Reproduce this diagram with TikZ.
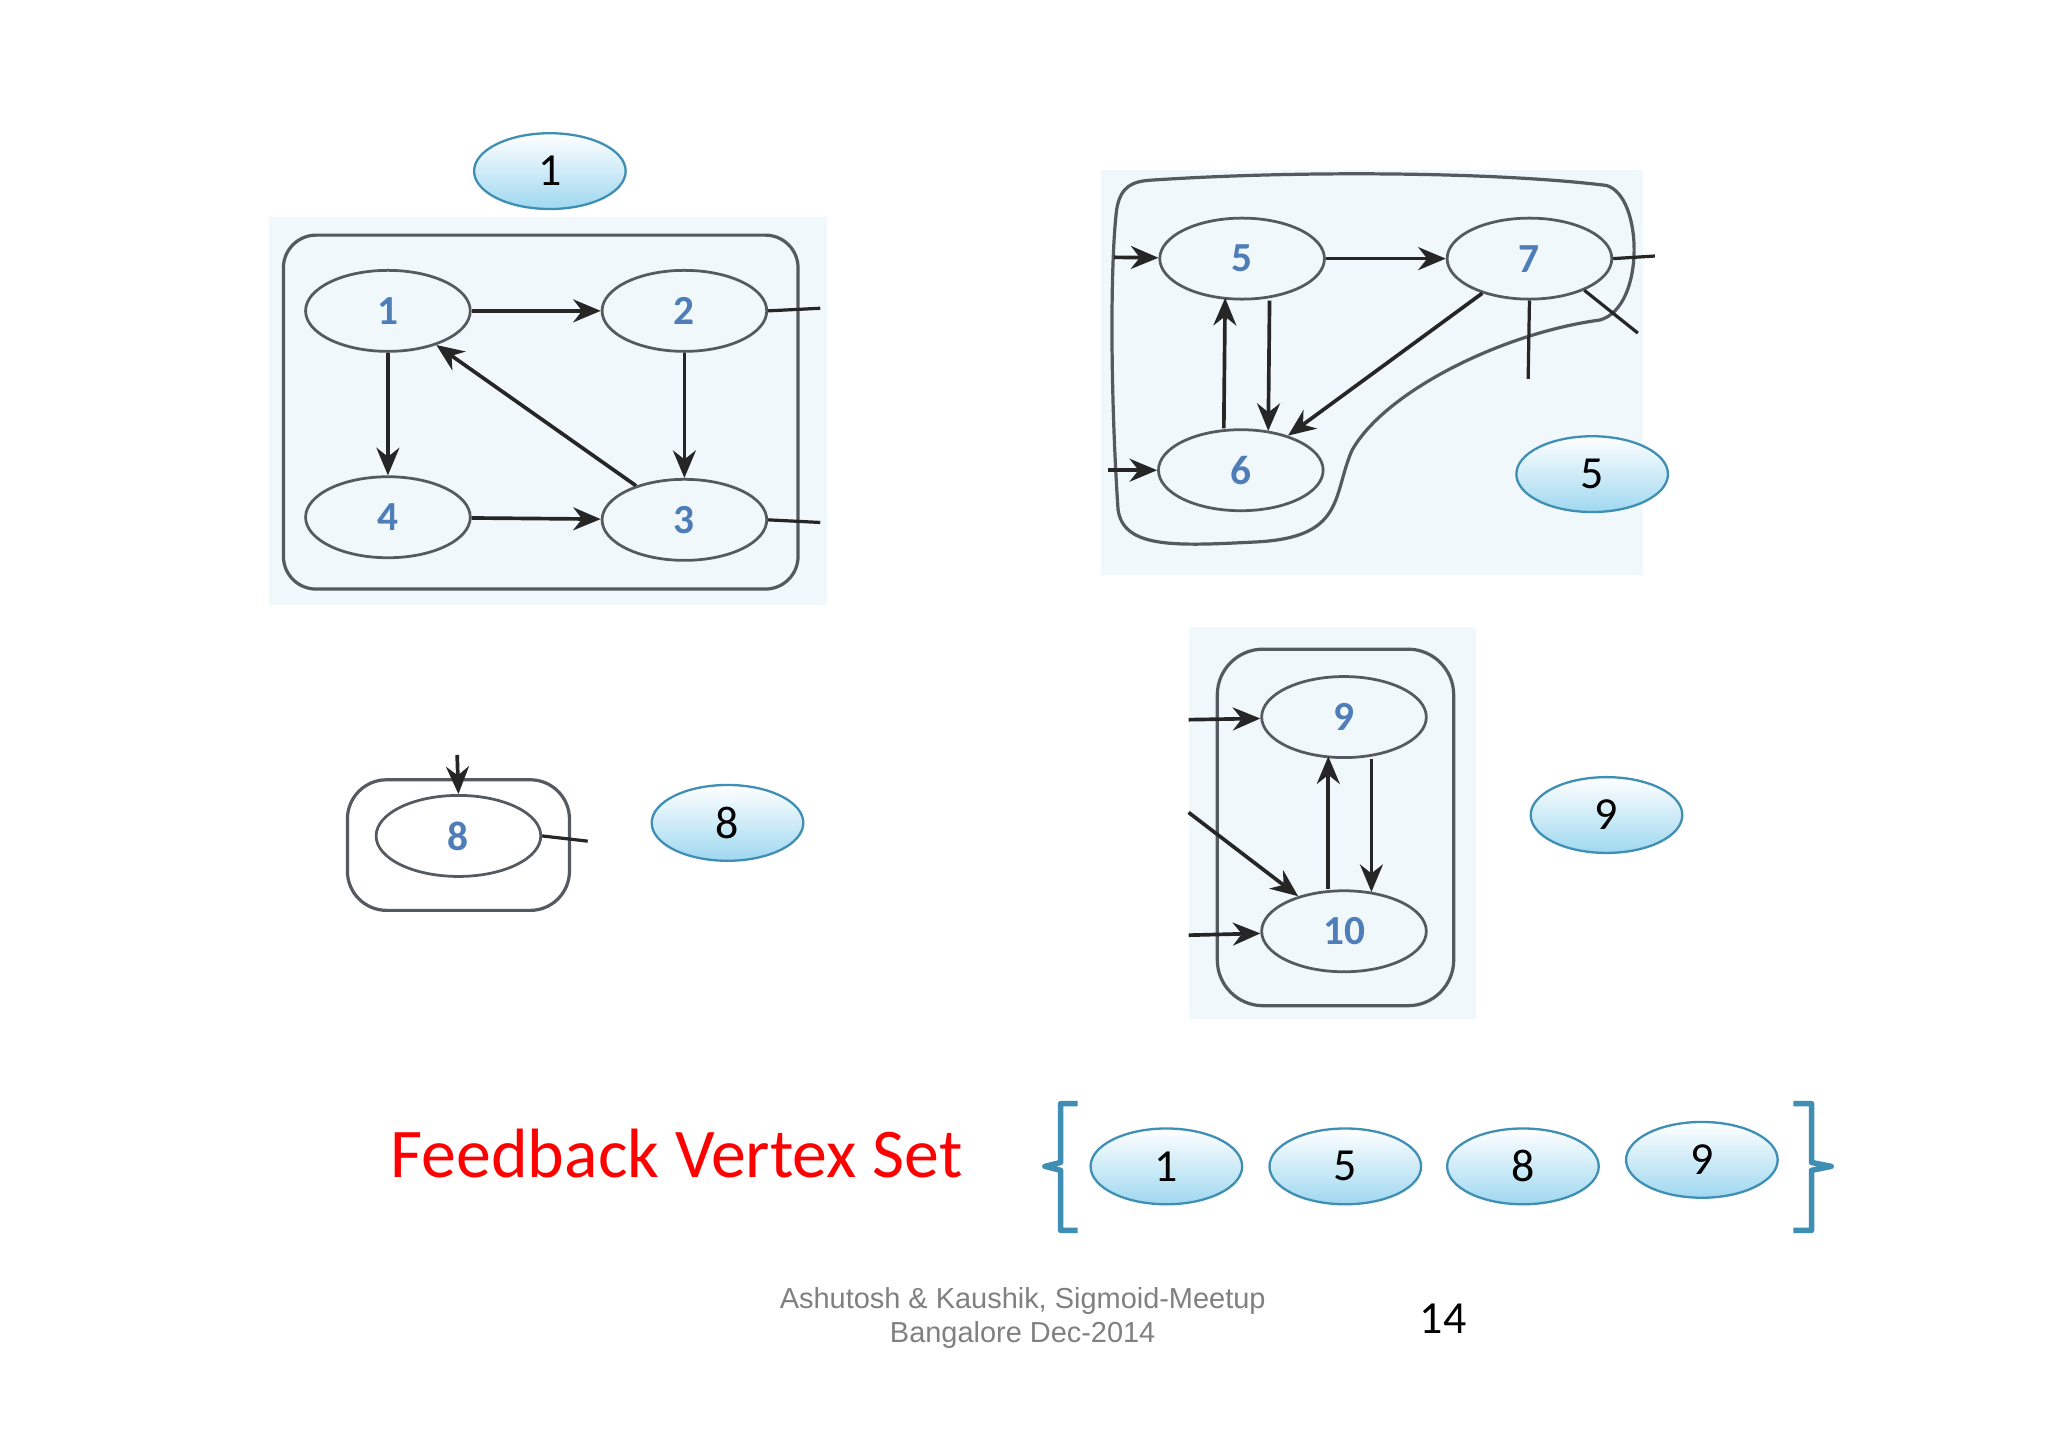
\documentclass[tikz,border=0pt]{standalone}
\usepackage{fontspec}
\setmainfont{Carlito}
\newfontfamily\arialf{Liberation Sans}
\usetikzlibrary{shapes.geometric,arrows.meta}
\definecolor{bgb}{HTML}{F0F8FC}
\definecolor{numb}{HTML}{4F7DB8}
\definecolor{lbord}{HTML}{3F8FB5}
\definecolor{lfill}{HTML}{9FD8F0}
\definecolor{gline}{HTML}{555A60}
\tikzset{
 gnode/.style={ellipse,draw=gline,line width=0.6pt,minimum width=1.26cm,minimum height=0.62cm,inner sep=0pt,font=\bfseries\fontsize{9}{10}\selectfont,text=numb},
 lbl/.style={ellipse,draw=lbord,line width=0.5pt,top color=white,bottom color=lfill,minimum width=1.16cm,minimum height=0.58cm,inner sep=0pt,font=\fontsize{10}{12}\selectfont},
 arr/.style={-{Stealth[length=6pt,width=5pt]},line width=0.8pt,black!85},
 pl/.style={line width=0.7pt,black!85},
 box/.style={draw=gline,line width=0.7pt,rounded corners=0.25cm},
 brk/.style={lbord,line width=1.2pt,line join=round},
}
\begin{document}
\begin{tikzpicture}[x=0.01cm,y=-0.01cm]
\fill[white] (0,0) rectangle (1568,1108);
\useasboundingbox (0,0) rectangle (1568,1108);
% cluster 1
\fill[bgb] (206,166) rectangle (633,463);
\draw[box] (217,180) rectangle (611,451);
\node[lbl] (L1) at (421,131) {1};
\node[gnode] (n1) at (297,238) {1};
\node[gnode] (n2) at (524,238) {2};
\node[gnode] (n4) at (297,396) {4};
\node[gnode] (n3) at (524,398) {3};
\draw[arr] (n1) -- (n2);
\draw[arr] (n2) -- (n3);
\draw[arr] (n1) -- (n4);
\draw[arr] (n4) -- (n3);
\draw[arr] (n3) -- (n1);
\coordinate (o2) at (628,236); \coordinate (o3) at (628,400);
\draw[pl] (n2.east) -- (o2);
\draw[pl] (n3.east) -- (o3);
% cluster 2
\fill[bgb] (843,130) rectangle (1258,440);
\draw[gline,line width=0.7pt] (880,138) .. controls (1000,130) and (1150,132) .. (1230,142)
 .. controls (1258,150) and (1260,235) .. (1225,245)
 .. controls (1150,255) and (1060,300) .. (1035,345)
 .. controls (1020,380) and (1030,412) .. (960,415)
 .. controls (900,418) and (860,420) .. (856,390)
 .. controls (850,300) and (850,200) .. (855,160)
 .. controls (858,142) and (868,139) .. (880,138) -- cycle;
\node[gnode] (n5) at (951,198) {5};
\node[gnode] (n7) at (1171,198) {7};
\node[gnode] (n6) at (950,360) {6};
\coordinate (i5) at (853,197); \coordinate (i6) at (848,360);
\draw[arr] (i5) -- (n5);
\draw[arr] (i6) -- (n6);
\draw[arr] (n5) -- (n7);
\draw[arr] ([xshift=0.21cm]n5.south) -- ([xshift=0.21cm,yshift=-0.02cm]n6.north);
\draw[arr] ([xshift=-0.13cm]n6.north) -- ([xshift=-0.13cm,yshift=0.02cm]n5.south);
\draw[arr] (n7) -- (n6);
\coordinate (o7a) at (1267,196); \coordinate (o7b) at (1254,255); \coordinate (o7c) at (1170,290);
\draw[pl] (n7.east) -- (o7a);
\draw[pl] (n7.-30) -- (o7b);
\draw[pl] (n7.south) -- (o7c);
\node[lbl] (L5) at (1219,363) {5};
% cluster 8
\draw[box,rounded corners=0.3cm] (266,597) rectangle (436,697);
\node[gnode] (n8) at (351,640) {8};
\coordinate (i8) at (350,578); \coordinate (o8) at (450,644);
\draw[arr] (i8) -- (n8.north);
\draw[pl] (n8.east) -- (o8);
\node[lbl] (L8) at (557,630) {8};
% cluster 9
\fill[bgb] (910,480) rectangle (1130,780);
\draw[box,rounded corners=0.35cm] (932,497) rectangle (1113,770);
\node[gnode] (n9) at (1029,549) {9};
\node[gnode] (n10) at (1029,713) {10};
\coordinate (i9) at (910,551); \coordinate (i10a) at (910,622); \coordinate (i10b) at (910,716);
\draw[arr] (i9) -- (n9);
\draw[arr] (i10a) -- (n10);
\draw[arr] (i10b) -- (n10);
\draw[arr] ([xshift=-0.12cm]n10.north) -- ([xshift=-0.12cm,yshift=0.02cm]n9.south);
\draw[arr] ([xshift=0.21cm]n9.south) -- ([xshift=0.21cm,yshift=-0.02cm]n10.north);
\node[lbl] (L9) at (1230,624) {9};
% bottom
\node[text=red,font=\fontsize{15.2}{18}\selectfont] (fvs) at (518,883) {Feedback Vertex Set};
\draw[brk] (825,845) -- (812,845) -- (812,890) -- (800,893) -- (812,896) -- (812,942) -- (825,942);
\draw[brk] (1373,845) -- (1387,845) -- (1387,890) -- (1402,893) -- (1387,896) -- (1387,942) -- (1373,942);
\node[lbl] (b1) at (893,893) {1};
\node[lbl] (b5) at (1030,893) {5};
\node[lbl] (b8) at (1166,893) {8};
\node[lbl] (b9) at (1303,888) {9};
\node[align=center,text=black!50,font=\arialf\fontsize{6.3}{7.5}\selectfont] (foot) at (783,1009) {Ashutosh \& Kaushik, Sigmoid-Meetup\\Bangalore Dec-2014};
\node[font=\fontsize{10}{12}\selectfont] (pg) at (1105,1010) {14};
\end{tikzpicture}
\end{document}
